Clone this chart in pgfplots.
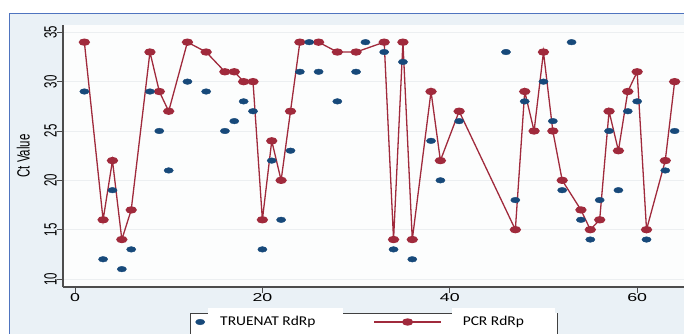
\documentclass[border=0pt]{standalone}
\usepackage{fontspec}
\usepackage{pgfplots}
\pgfplotsset{compat=1.18}
\setmainfont{Liberation Sans}
\newfontfamily\xtickfont[FakeStretch=1.55]{Liberation Sans}
\newfontfamily\ytickfont[FakeStretch=0.645]{Liberation Sans}
\newfontfamily\legfont[FakeStretch=1.15]{Carlito}
\definecolor{framebg}{HTML}{EAF1F6}
\definecolor{framec}{HTML}{4F74BF}
\definecolor{plotbg}{HTML}{FCFDFD}
\definecolor{gridc}{HTML}{ECEFF1}
\definecolor{axisgray}{HTML}{4D4D4D}
\definecolor{tnblue}{HTML}{17497A}
\definecolor{pcrred}{HTML}{A02A3C}
\pgfplotsset{
  redleg/.style={legend image code/.code={\draw[mark repeat=2,mark phase=2,##1] plot coordinates {(0bp,0bp) (33.5bp,0bp) (67bp,0bp)};}},
  blueleg/.style={legend image code/.code={\draw[##1] plot coordinates {(0bp,0bp)};}},
}
\begin{document}
\begin{tikzpicture}
\useasboundingbox (0,0) rectangle (684bp,334bp);
\clip (0,0) rectangle (684bp,334bp);
\fill[white] (0,0) rectangle (684bp,334bp);
\fill[framebg] (9.3bp,0) rectangle (684bp,320.7bp);
\draw[framec, line width=1.3bp] (9.3bp,-1bp) -- (9.3bp,320.7bp) -- (686bp,320.7bp);
% legend box decoration
\fill[white] (190bp,-1bp) rectangle (557bp,21bp);
\fill[white] (208bp,21bp) rectangle (343bp,26bp);
\fill[white] (452bp,21bp) rectangle (555bp,26bp);
\draw[black!75, line width=0.9bp] (190bp,-2bp) -- (190bp,21bp) -- (208bp,21bp);
\draw[black!75, line width=0.9bp] (343bp,21bp) -- (452bp,21bp);
\draw[black!75, line width=0.9bp] (557bp,-2bp) -- (557bp,21bp);
\begin{axis}[
  at={(63bp,47bp)}, anchor=south west,
  scale only axis, width=621bp, height=262bp,
  xmin=-1.28, xmax=65, ymin=9.19, ymax=35.74,
  axis x line*=bottom, axis y line*=left,
  axis line style={draw=axisgray, line width=1.1bp, -},
  xtick={0,20,40,60}, ytick={10,15,20,25,30,35},
  tick align=outside, major tick length=6bp,
  tick style={draw=axisgray, line width=0.9bp},
  ymajorgrids, grid style={draw=gridc, line width=0.8bp},
  axis background/.style={fill=plotbg},
  /pgf/number format/assume math mode=true,
  xticklabel style={font=\xtickfont\fontsize{11.5}{12}\selectfont, inner sep=0pt, anchor=north},
  yticklabel style={font=\ytickfont\fontsize{17.8}{18}\selectfont, rotate=90, anchor=south, inner sep=0pt},
  ylabel={Ct Value},
  every axis y label/.style={at={(axis description cs:-0.0531,0.5)}, rotate=90, anchor=south, inner sep=0pt, font=\ytickfont\fontsize{17.8}{18}\selectfont},
  legend columns=2,
  reverse legend,
  legend style={at={(axis description cs:0.2132,-0.1336)}, anchor=west, draw=none, fill=none, inner sep=0pt,
    font=\legfont\fontsize{13.5}{14}\selectfont,
    nodes={inner sep=0pt},
    /tikz/column 1/.style={column sep=15.4bp},
    /tikz/column 2/.style={column sep=58bp},
    /tikz/column 3/.style={column sep=21bp}},
]
\addplot[color=pcrred, line width=1.3bp, mark=*, mark size=3bp, mark options={xscale=1.65, fill=pcrred, draw=pcrred}, redleg]
coordinates {
(1,34) (3,16) (4,22) (5,14) (6,17) (8,33) (9,29) (10,27) (12,34) (14,33)
(16,31) (17,31) (18,30) (19,30) (20,16) (21,24) (22,20) (23,27) (24,34) (26,34)
(28,33) (30,33) (33,34) (34,14) (35,34) (36,14) (38,29) (39,22) (41,27) (47,15)
(48,29) (49,25) (50,33) (51,25) (52,20) (54,17) (55,15) (56,16) (57,27) (58,23)
(59,29) (60,31) (61,15) (63,22) (64,30)
};
\addlegendentry{PCR RdRp}
\addplot[only marks, mark=*, mark size=2.8bp, mark options={xscale=1.65, fill=tnblue, draw=tnblue}, blueleg]
coordinates {
(1,29) (3,12) (4,19) (5,11) (6,13) (8,29) (9,25) (10,21) (12,30) (14,29)
(16,25) (17,26) (18,28) (19,27) (20,13) (21,22) (22,16) (23,23) (24,31) (25,34)
(26,31) (28,28) (30,31) (31,34) (33,33) (34,13) (35,32) (36,12) (38,24) (39,20)
(41,26) (46,33) (47,18) (48,28) (50,30) (51,26) (52,19) (53,34) (54,16)
(55,14) (56,18) (57,25) (58,19) (59,27) (60,28) (61,14) (63,21) (64,25)
};
\addlegendentry{TRUENAT RdRp}
\end{axis}
\end{tikzpicture}
\end{document}
